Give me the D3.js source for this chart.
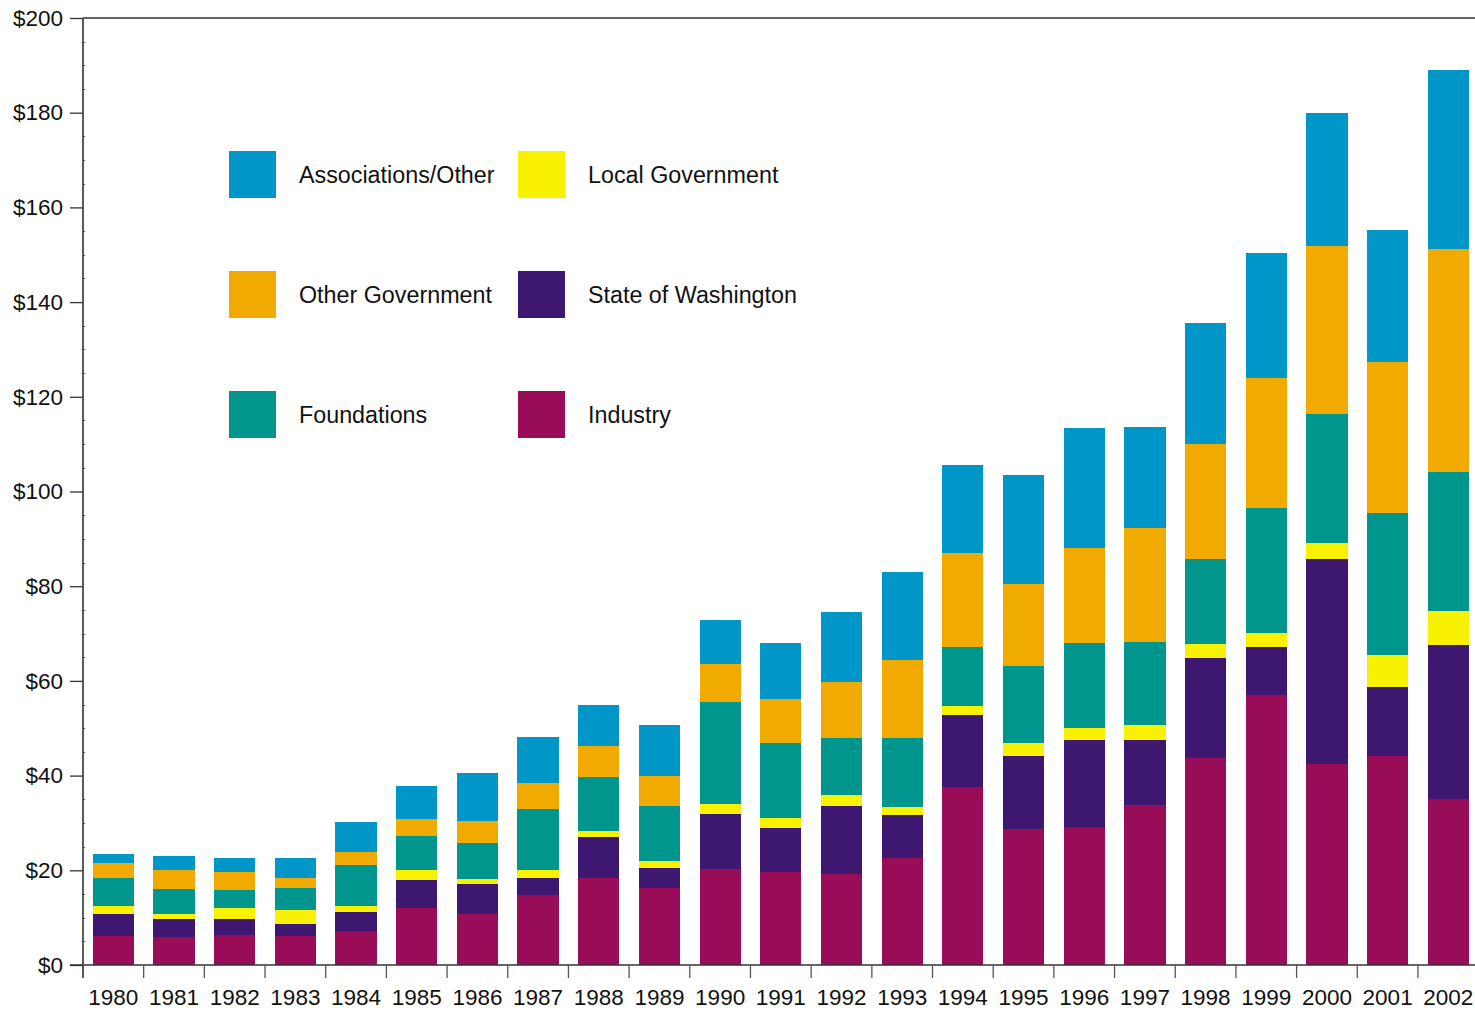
<!DOCTYPE html>
<html>
<head>
<meta charset="utf-8">
<script src="https://cdn.jsdelivr.net/npm/d3@7"></script>
<style>
  html, body { margin: 0; padding: 0; background: #fff; }
  svg { display: block; font-family: "Liberation Sans", Arial, sans-serif; }
</style>
</head>
<body>
<svg id="chart" width="1475" height="1011"></svg>
<script>
// ---- Data (millions of dollars) ----
const years = ["1980","1981","1982","1983","1984","1985","1986","1987","1988","1989","1990","1991",
               "1992","1993","1994","1995","1996","1997","1998","1999","2000","2001","2002"];
const industry     = [6.1, 5.9, 6.3, 6.1, 7.2, 12.0, 10.8, 14.8, 18.4, 16.3, 20.3, 19.6, 19.2, 22.6, 37.5, 28.8, 29.1, 33.7, 43.7, 57.1, 42.5, 44.1, 35.1];
const stateWA      = [4.7, 3.8, 3.4, 2.5, 4.0, 5.9, 6.3, 3.6, 8.6, 4.2, 11.6, 9.3, 14.4, 9.1, 15.2, 15.3, 18.4, 13.8, 21.2, 10.1, 43.2, 14.7, 32.5];
const localGov     = [1.7, 1.1, 2.3, 3.0, 1.3, 2.1, 1.1, 1.7, 1.3, 1.5, 2.1, 2.1, 2.3, 1.7, 2.1, 2.7, 2.5, 3.1, 2.9, 3.0, 3.5, 6.7, 7.2];
const foundations  = [5.9, 5.3, 3.8, 4.6, 8.7, 7.2, 7.6, 12.9, 11.4, 11.6, 21.5, 15.8, 12.0, 14.6, 12.3, 16.3, 18.0, 17.6, 17.9, 26.4, 27.2, 30.0, 29.3];
const otherGov     = [3.2, 4.0, 3.8, 2.1, 2.7, 3.6, 4.6, 5.5, 6.6, 6.3, 8.0, 9.3, 11.8, 16.5, 19.9, 17.3, 20.0, 24.1, 24.3, 27.4, 35.4, 31.9, 47.1];
const associations = [1.9, 3.0, 3.0, 4.4, 6.3, 7.0, 10.2, 9.7, 8.6, 10.8, 9.3, 11.8, 14.8, 18.4, 18.6, 23.0, 25.4, 21.3, 25.6, 26.4, 28.1, 27.8, 37.8];

const seriesKeys   = ["Industry", "State of Washington", "Local Government", "Foundations", "Other Government", "Associations/Other"];
const seriesValues = [industry, stateWA, localGov, foundations, otherGov, associations];
const seriesColors = ["#990C58", "#3D1770", "#F8F200", "#00968E", "#F0AA00", "#0096C8"];

const yTickValues = [0, 20, 40, 60, 80, 100, 120, 140, 160, 180, 200];
const yMinorTicks = d3.range(5, 200, 5).filter(v => v % 20 !== 0);

// legend layout: column 1 then column 2
const legendCols = [["Associations/Other", "Other Government", "Foundations"],
                    ["Local Government", "State of Washington", "Industry"]];

// ---- Build table ----
const table = years.map((yr, i) => {
  const row = { year: yr };
  seriesKeys.forEach((k, j) => row[k] = seriesValues[j][i]);
  return row;
});
const stacked = d3.stack().keys(seriesKeys)(table);
const color = d3.scaleOrdinal().domain(seriesKeys).range(seriesColors);

// ---- Layout ----
const svg = d3.select("#chart");
const W = 1475;
const x0 = 83, yBottom = 965, yTop = 18;
const step = 60.68;

const x = d3.scaleBand().domain(years)
  .range([x0, x0 + step * years.length])
  .paddingInner(0.32).paddingOuter(0.16);
const y = d3.scaleLinear().domain([0, 200]).range([yBottom, yTop]);

// ---- Bars ----
svg.append("g").selectAll("g")
  .data(stacked).join("g")
  .attr("fill", d => color(d.key))
  .selectAll("rect")
  .data(d => d).join("rect")
  .attr("x", d => x(d.data.year))
  .attr("width", x.bandwidth())
  .attr("y", d => y(d[1]))
  .attr("height", d => y(d[0]) - y(d[1]))
  .attr("shape-rendering", "crispEdges");

const axisColor = "#333";

// ---- Y axis ----
const yAxis = svg.append("g")
  .attr("transform", `translate(${x0},0)`)
  .call(d3.axisLeft(y).tickValues(yTickValues).tickSize(13).tickPadding(7).tickFormat(d => "$" + d));
yAxis.select(".domain").remove();
yAxis.selectAll(".tick line").attr("stroke", axisColor).attr("stroke-width", 1.3);
yAxis.selectAll(".tick text").attr("font-size", 22.5).attr("fill", "#111")
  .attr("font-family", "'Liberation Sans', Arial, sans-serif");

// minor ticks
svg.append("g").selectAll("line")
  .data(yMinorTicks).join("line")
  .attr("x1", x0).attr("x2", x0 + 2)
  .attr("y1", d => Math.round(y(d)) + 0.5).attr("y2", d => Math.round(y(d)) + 0.5)
  .attr("stroke", "#666").attr("stroke-width", 1);

// axis frame lines
svg.append("line").attr("x1", x0).attr("x2", x0).attr("y1", yTop).attr("y2", yBottom + 13)
  .attr("stroke", axisColor).attr("stroke-width", 1.6);
svg.append("line").attr("x1", x0).attr("x2", W).attr("y1", yTop).attr("y2", yTop)
  .attr("stroke", axisColor).attr("stroke-width", 1.3);
svg.append("line").attr("x1", x0 - 13).attr("x2", W).attr("y1", yBottom).attr("y2", yBottom)
  .attr("stroke", axisColor).attr("stroke-width", 1.6);

// ---- X axis ----
const xAxis = svg.append("g")
  .attr("transform", `translate(0,${yBottom})`)
  .call(d3.axisBottom(x).tickSize(0).tickPadding(24));
xAxis.select(".domain").remove();
xAxis.selectAll(".tick text").attr("font-size", 22.5).attr("fill", "#111")
  .attr("font-family", "'Liberation Sans', Arial, sans-serif");

// ticks at band boundaries
svg.append("g").selectAll("line")
  .data(years).join("line")
  .attr("x1", d => x(d) - x.step() * x.paddingOuter())
  .attr("x2", d => x(d) - x.step() * x.paddingOuter())
  .attr("y1", yBottom).attr("y2", yBottom + 13)
  .attr("stroke", "#555").attr("stroke-width", 1.3);

// ---- Legend ----
const legend = svg.append("g");
const colX = [229, 518];
legendCols.forEach((col, ci) => {
  col.forEach((name, ri) => {
    const g = legend.append("g").attr("transform", `translate(${colX[ci]},${151 + ri * 120})`);
    g.append("rect").attr("width", 47).attr("height", 47).attr("fill", color(name));
    g.append("text").attr("x", 70).attr("y", 32).attr("font-size", 23.3).attr("fill", "#111")
      .text(name);
  });
});
</script>
</body>
</html>
